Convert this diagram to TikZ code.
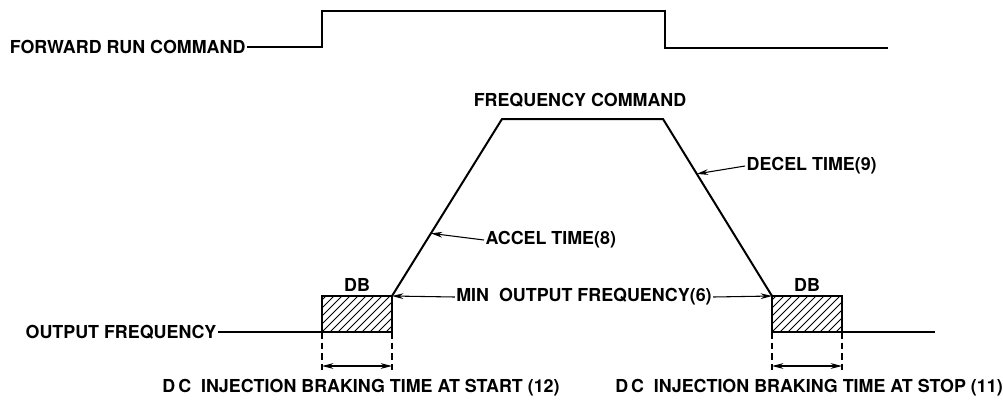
\documentclass[tikz,border=0pt]{standalone}
\usepackage{fontspec}
\setmainfont{TeX Gyre Heros}
\usetikzlibrary{positioning,arrows.meta,calc}
\tikzset{
  sig/.style={line width=1.5pt,line join=miter},
  lbl/.style={font=\fontsize{13.4}{15}\selectfont\bfseries,inner sep=1pt},
  ptr/.style={-{Stealth[length=3mm,width=1.5mm]},line width=0.8pt},
  span/.style={{Stealth[length=3mm,width=1.5mm]}-{Stealth[length=3mm,width=1.5mm]},line width=0.8pt},
  guide/.style={dashed,dash pattern=on 5pt off 3pt,line width=0.8pt},
  dbbox/.style={draw,line width=1.5pt,
    minimum width=52.5pt,minimum height=27pt,inner sep=0pt,outer sep=0pt,
    path picture={
      \foreach \k in {-8,...,12}
        \draw[line width=0.6pt] ([xshift=\k*6pt]path picture bounding box.south west)
          -- ++(30pt,30pt);
    }},
}

\begin{document}
\begin{tikzpicture}[x=0.75pt,y=-0.75pt]
  \useasboundingbox (0,0) rectangle (1003,401);
  % forward run command
  \node[lbl,anchor=east] (fwd) at (247,47) {FORWARD RUN COMMAND};
  \coordinate (on) at (322,47);
  \coordinate (off) at (665,11);
  \coordinate (fwdend) at (888,48);
  \draw[sig] (fwd.east) -- (on) |- (off) |- (fwdend);
  % output frequency
  \node[lbl,anchor=east] (outf) at (218,332) {OUTPUT FREQUENCY};
  \node[dbbox,anchor=south west] (dbs) at (322,332) {};
  \node[dbbox,anchor=south west] (dbe) at (772,332) {};
  \coordinate (top1) at (502,119);
  \coordinate (top2) at (663,119);
  \coordinate (outend) at (935,332);
  \draw[sig] (outf.east) -- (dbs.south west);
  \draw[sig] (dbs.north east) -- (top1) -- (top2) -- (dbe.north west);
  \draw[sig] (dbe.south east) -- (outend);
  \node[lbl,above=2pt of dbs] (dbsl) {DB};
  \node[lbl,above=2pt of dbe] (dbel) {DB};
  % labels with pointers
  \node[lbl] (fcmd) at (580,100) {FREQUENCY COMMAND};
  \node[lbl,anchor=west] (acc) at (484,240) {ACCEL TIME(8)};
  \node[lbl,anchor=west] (dec) at (745,166) {DECEL TIME(9)};
  \coordinate (accpt) at ($(dbs.north east)!0.354!(top1)$);
  \coordinate (decpt) at ($(top2)!0.31!(dbe.north west)$);
  \draw[ptr] (acc.west) -- (accpt);
  \draw[ptr] (dec.west) -- (decpt);
  \node[lbl] (minf) at (584,297) {MIN\ \ OUTPUT FREQUENCY(6)};
  \draw[ptr] (minf.west) -- (dbs.north east);
  \draw[ptr] (minf.east) -- (dbe.north west);
  % braking time spans
  \foreach \b in {dbs,dbe} {
    \draw[guide] (\b.south west) -- ++(0,38);
    \draw[guide] (\b.south east) -- ++(0,38);
    \draw[span] ($(\b.south west)+(0,34)$) -- ($(\b.south east)+(0,34)$);
  }
  \node[lbl] (tstart) at (361,388) {D\,C\ \ INJECTION BRAKING TIME AT START (12)};
  \node[lbl] (tstop) at (809,388) {D\,C\ \ INJECTION BRAKING TIME AT STOP (11)};
\end{tikzpicture}
\end{document}
